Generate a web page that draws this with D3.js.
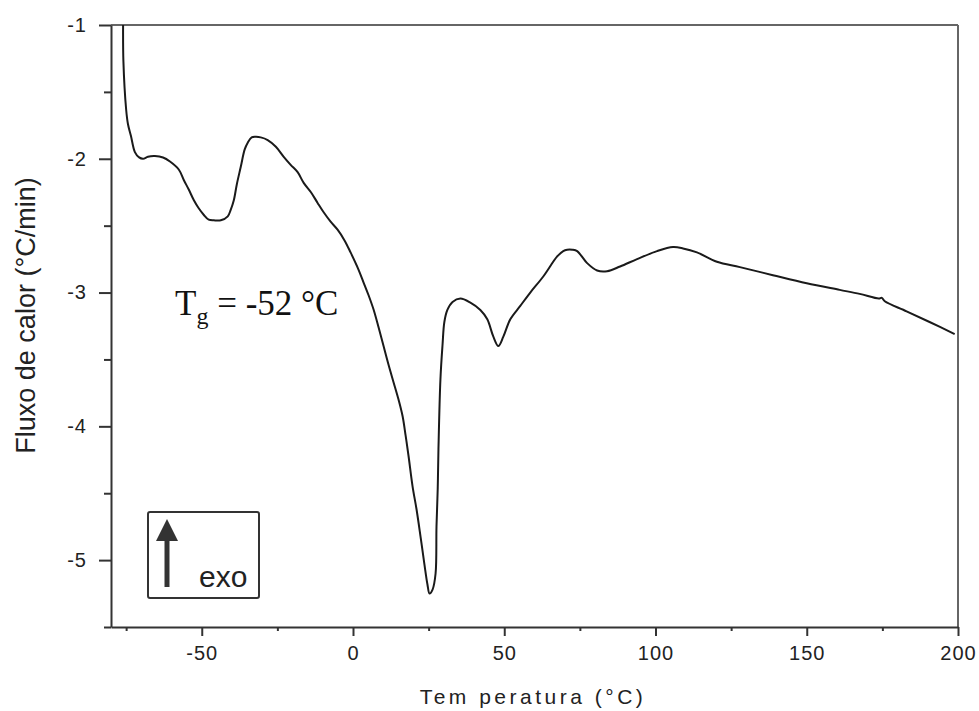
<!DOCTYPE html>
<html>
<head>
<meta charset="utf-8">
<script src="https://cdn.jsdelivr.net/npm/d3@7"></script>
<style>
  body { margin: 0; background: #fff; }
  svg { display: block; }
</style>
</head>
<body>
<script>
const width = 979
const height = 711

// DSC curve
const temps = [-76.0, -75.9, -75.0, -74.4, -73.4, -72.1, -70.7, -69.4, -67.8, -65.5, -62.8, -60.5, -57.6, -55.9, -54.3, -52.6, -51.0, -49.3, -47.7, -46.0, -43.7, -41.4, -40.4, -39.4, -38.4, -37.1, -35.8, -34.8, -33.5, -32.1, -30.5, -28.2, -25.5, -22.9, -20.6, -18.3, -16.3, -13.9, -11.7, -9.7, -7.4, -5.1, -2.8, -0.8, 1.85, 3.5, 5.15, 6.8, 8.45, 10.1, 11.75, 13.4, 15.05, 16.4, 17.4, 18.35, 19.7, 21.0, 22.3, 23.6, 24.6, 25.3, 26.3, 27.3, 27.6, 28.0, 28.25, 28.9, 29.6, 30.2, 31.2, 32.9, 35.5, 38.8, 42.1, 44.4, 46.4, 48.05, 49.7, 52.0, 55.3, 58.6, 62.9, 67.5, 69.5, 70.8, 72.5, 74.1, 77.4, 80.7, 84.0, 88.3, 93.9, 100.5, 105.8, 109.1, 113.7, 120.3, 127.9, 138.8, 150.0, 160.9, 167.5, 173.8, 174.8, 175.8, 183.0, 190.6, 198.9]
const flux = [-1.0, -1.27, -1.63, -1.74, -1.83, -1.95, -1.99, -2.0, -1.985, -1.98, -1.99, -2.02, -2.08, -2.16, -2.23, -2.31, -2.37, -2.42, -2.455, -2.46, -2.46, -2.43, -2.38, -2.31, -2.19, -2.06, -1.93, -1.88, -1.84, -1.836, -1.84, -1.86, -1.91, -1.985, -2.045, -2.10, -2.18, -2.25, -2.33, -2.40, -2.47, -2.53, -2.61, -2.70, -2.83, -2.925, -3.02, -3.127, -3.26, -3.40, -3.54, -3.67, -3.80, -3.925, -4.07, -4.22, -4.45, -4.62, -4.82, -5.03, -5.18, -5.25, -5.22, -5.10, -4.75, -4.47, -4.17, -3.65, -3.39, -3.22, -3.13, -3.07, -3.045, -3.075, -3.13, -3.20, -3.33, -3.40, -3.33, -3.20, -3.10, -3.0, -2.88, -2.73, -2.69, -2.68, -2.68, -2.69, -2.78, -2.835, -2.84, -2.805, -2.75, -2.69, -2.66, -2.67, -2.70, -2.77, -2.81, -2.87, -2.93, -2.98, -3.01, -3.045, -3.04, -3.065, -3.14, -3.22, -3.31]

const xMajor = [-50, 0, 50, 100, 150, 200]
const xMinor = [-75, -25, 25, 75, 125, 175]
const yMajor = [-1, -2, -3, -4, -5]
const yMinor = [-1.5, -2.5, -3.5, -4.5, -5.5]

const xLabel = 'Tem peratura (°C)'
const yLabel = 'Fluxo de calor (°C/min)'

const plotLeft = 111
const plotRight = 958
const plotTop = 25
const plotBottom = 627

const svg = d3.select('body')
  .append('svg')
  .attr('width', width)
  .attr('height', height)

const x = d3.scaleLinear().domain([-80, 200]).range([plotLeft, plotRight])
const y = d3.scaleLinear().domain([-5.5, -1]).range([plotBottom, plotTop])

const tickFont = '"Liberation Sans", Arial, sans-serif'
const plain = (d) => String(d)

// frame: top and right in lighter grey
svg.append('line')
  .attr('x1', plotLeft).attr('x2', plotRight).attr('y1', plotTop).attr('y2', plotTop)
  .attr('stroke', '#666').attr('stroke-width', 2)
svg.append('line')
  .attr('x1', plotRight).attr('x2', plotRight).attr('y1', plotTop).attr('y2', plotBottom)
  .attr('stroke', '#666').attr('stroke-width', 2)

// x axis
const gx = svg.append('g')
  .attr('transform', `translate(0, ${ plotBottom })`)
  .call(d3.axisBottom(x).tickValues(xMajor).tickFormat(plain).tickSizeInner(9).tickSizeOuter(0).tickPadding(10))
svg.append('g')
  .attr('transform', `translate(0, ${ plotBottom })`)
  .call(d3.axisBottom(x).tickValues(xMinor).tickSize(4).tickFormat(''))
  .select('.domain').remove()

// y axis
const gy = svg.append('g')
  .attr('transform', `translate(${ plotLeft }, 0)`)
  .call(d3.axisLeft(y).tickValues(yMajor).tickFormat(plain).tickSizeInner(12).tickSizeOuter(0).tickPadding(12))
svg.append('g')
  .attr('transform', `translate(${ plotLeft }, 0)`)
  .call(d3.axisLeft(y).tickValues(yMinor).tickSize(7).tickFormat(''))
  .select('.domain').remove()

svg.selectAll('.domain').attr('stroke', '#333').attr('stroke-width', 2)
svg.selectAll('.tick line').attr('stroke', '#333').attr('stroke-width', 2)
svg.selectAll('.tick text')
  .attr('fill', '#222')
  .style('font-family', tickFont)
  .style('font-size', '20px')
  .style('letter-spacing', '1px')
gx.selectAll('.tick text').attr('dy', '0.71em')

// curve
const points = temps.map((t, i) => [t, flux[i]])
const line = d3.line()
  .x((d) => x(d[0]))
  .y((d) => y(d[1]))
  .curve(d3.curveCatmullRom.alpha(0.5))

svg.append('path')
  .datum(points)
  .attr('fill', 'none')
  .attr('stroke', '#1a1a1a')
  .attr('stroke-width', 2)
  .attr('d', line)

// axis titles
svg.append('text')
  .attr('x', 533)
  .attr('y', 704)
  .attr('text-anchor', 'middle')
  .attr('fill', '#222')
  .style('font-family', tickFont)
  .style('font-size', '21px')
  .style('letter-spacing', '3.5px')
  .text(xLabel)

svg.append('text')
  .attr('transform', `translate(35, ${ (173 + 458) / 2 }) rotate(-90)`)
  .attr('text-anchor', 'middle')
  .attr('fill', '#222')
  .style('font-family', tickFont)
  .style('font-size', '27px')
  .text(yLabel)

// Tg annotation
const tg = svg.append('text')
  .attr('x', 175)
  .attr('y', 315)
  .attr('fill', '#111')
  .style('font-family', '"Liberation Serif", "Times New Roman", serif')
  .style('font-size', '35px')
tg.append('tspan').text('T')
tg.append('tspan').attr('dy', 9).style('font-size', '24px').text('g')
tg.append('tspan').attr('dy', -9).text(' = -52 °C')

// exo box
svg.append('rect')
  .attr('x', 148).attr('y', 512)
  .attr('width', 111).attr('height', 86)
  .attr('rx', 2)
  .attr('fill', 'none')
  .attr('stroke', '#333')
  .attr('stroke-width', 2)
svg.append('line')
  .attr('x1', 167).attr('x2', 167).attr('y1', 587).attr('y2', 535)
  .attr('stroke', '#333').attr('stroke-width', 5)
svg.append('path')
  .attr('d', 'M156,541 L178,541 L167,519 Z')
  .attr('fill', '#333')
svg.append('text')
  .attr('x', 199)
  .attr('y', 587)
  .attr('fill', '#222')
  .style('font-family', tickFont)
  .style('font-size', '30px')
  .text('exo')
</script>
</body>
</html>
